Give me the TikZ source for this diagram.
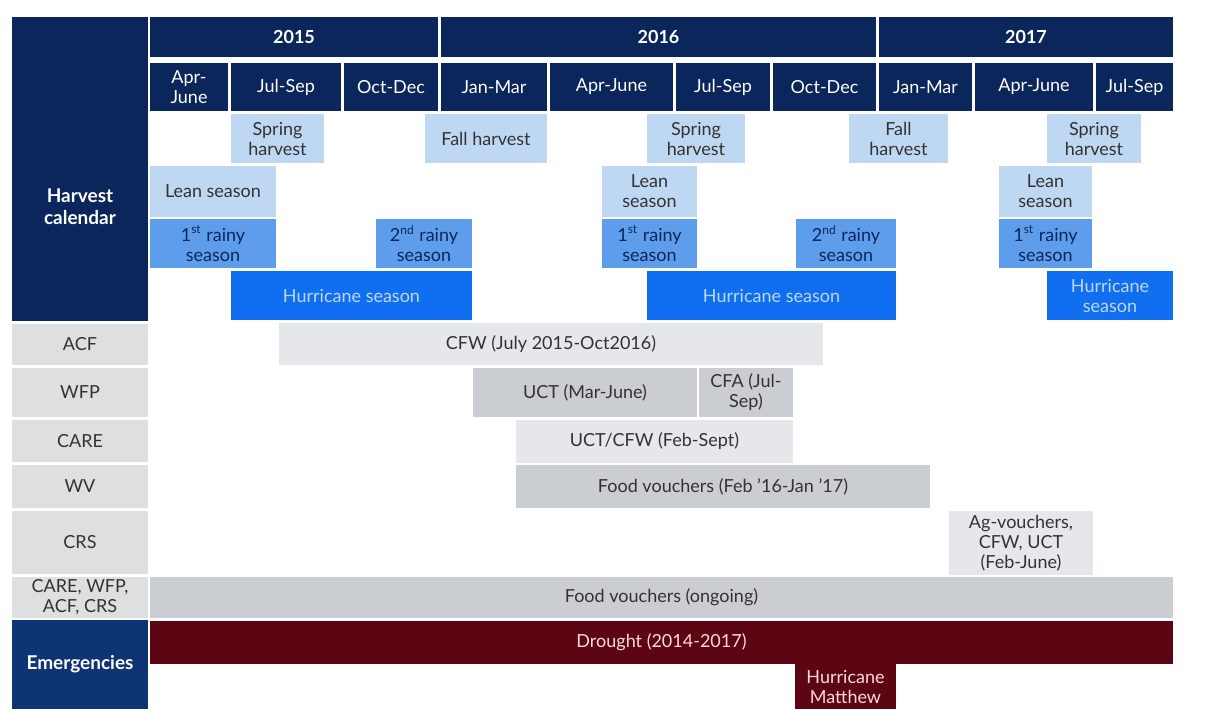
\documentclass[tikz,border=0pt]{standalone}
\usepackage{fontspec}
\setmainfont{Lato}
\definecolor{navy}{HTML}{0B265B}
\definecolor{navyB}{HTML}{0E3473}
\definecolor{paleblue}{HTML}{BED8F4}
\definecolor{midblue}{HTML}{5E9DEB}
\definecolor{brightblue}{HTML}{0F6FF0}
\definecolor{labelgray}{HTML}{DEDFE0}
\definecolor{lightgray}{HTML}{E5E7EA}
\definecolor{midgray}{HTML}{CACDD2}
\definecolor{maroon}{HTML}{5C0614}
\definecolor{inkgray}{HTML}{333333}

\begin{document}
\begin{tikzpicture}[x=0.5pt,y=-0.5pt]
		\tikzset{
			span/.style n args={4}{at={({(#1+#3)/2},{(#2+#4)/2})},
				minimum width={(#3-#1)*0.5pt},minimum height={(#4-#2)*0.5pt}},
			cell/.style={inner sep=0pt,align=center,font=\fontsize{9}{10}\selectfont},
			year/.style={cell,fill=navy,text=white,font=\fontsize{9}{10}\selectfont\bfseries},
			quarter/.style={cell,fill=navy,text=white},
			side/.style={cell,fill=navy,text=white,font=\fontsize{9.5}{11}\selectfont\bfseries},
			sidetext/.style={inner sep=0pt,align=center,text=white,font=\fontsize{9.5}{11}\selectfont\bfseries},
			harvest/.style={cell,fill=paleblue,text=inkgray},
			rainy/.style={cell,fill=midblue,text=navy},
			storm/.style={cell,fill=brightblue,text=paleblue},
			agency/.style={cell,fill=labelgray,text=inkgray},
			lightbar/.style={cell,fill=lightgray,text=inkgray},
			darkbar/.style={cell,fill=midgray,text=inkgray},
			crisis/.style={cell,fill=maroon,text=pink!60!white},
		}
		\useasboundingbox (0,0) rectangle (1217,709);
		
		\node[year, span={150}{17}{438}{57}] (y2015) {2015};
		\node[year, span={441}{17}{876}{57}] (y2016) {2016};
		\node[year, span={879}{17}{1173}{57}] (y2017) {2017};
		
		\node[quarter, span={150}{63}{228}{111}] (aprA) {Apr-\\June};
		\node[quarter, span={231}{63}{341}{111}] (julA) {Jul-Sep};
		\node[quarter, span={344}{63}{438}{111}] (octA) {Oct-Dec};
		\node[quarter, span={441}{63}{547}{111}] (janB) {Jan-Mar};
		\node[quarter, span={550}{63}{673}{111}] (aprB) {Apr-June};
		\node[quarter, span={676}{63}{770}{111}] (julB) {Jul-Sep};
		\node[quarter, span={773}{63}{876}{111}] (octB) {Oct-Dec};
		\node[quarter, span={879}{63}{972}{111}] (janC) {Jan-Mar};
		\node[quarter, span={975}{63}{1093}{111}] (aprC) {Apr-June};
		\node[quarter, span={1096}{63}{1173}{111}] (julC) {Jul-Sep};
		
		\node[side, span={12}{17}{148}{321},
			label={[sidetext,yshift=-19pt]center:Harvest\\calendar}] (calendar) {};
		
		\node[harvest, span={231}{114}{324}{163}] (springA) {Spring\\harvest};
		\node[harvest, span={425}{114}{547}{163}] (fallA) {Fall harvest};
		\node[harvest, span={647}{114}{745}{163}] (springB) {Spring\\harvest};
		\node[harvest, span={849}{114}{948}{163}] (fallB) {Fall\\harvest};
		\node[harvest, span={1047}{114}{1141}{163}] (springC) {Spring\\harvest};
		
		\node[harvest, span={150}{166}{276}{217}] (leanA) {Lean season};
		\node[harvest, span={602}{166}{697}{217}] (leanB) {Lean\\season};
		\node[harvest, span={999}{166}{1092}{217}] (leanC) {Lean\\season};
		
		\node[rainy, span={150}{219}{276}{268}] (rainA) {1\textsuperscript{st} rainy\\season};
		\node[rainy, span={376}{219}{472}{268}] (rainB) {2\textsuperscript{nd} rainy\\season};
		\node[rainy, span={602}{219}{697}{268}] (rainC) {1\textsuperscript{st} rainy\\season};
		\node[rainy, span={796}{219}{896}{268}] (rainD) {2\textsuperscript{nd} rainy\\season};
		\node[rainy, span={999}{219}{1092}{268}] (rainE) {1\textsuperscript{st} rainy\\season};
		
		\node[storm, span={231}{271}{472}{320}] (hurA) {Hurricane season};
		\node[storm, span={647}{271}{896}{320}] (hurB) {Hurricane season};
		\node[storm, span={1047}{271}{1173}{320}] (hurC) {Hurricane\\season};
		
		\node[agency, span={12}{324}{148}{365}] (acf) {ACF};
		\node[agency, span={12}{368}{148}{417}] (wfp) {WFP};
		\node[agency, span={12}{420}{148}{462}] (care) {CARE};
		\node[agency, span={12}{465}{148}{508}] (wv) {WV};
		\node[agency, span={12}{511}{148}{574}] (crs) {CRS};
		\node[agency, span={12}{577}{148}{618}] (all) {CARE, WFP,\\ACF, CRS};
		
		\node[lightbar, span={279}{323}{823}{365}] (cfw) {CFW (July 2015-Oct2016)};
		\node[darkbar, span={473}{368}{697}{417}] (uct) {UCT (Mar-June)};
		\node[darkbar, span={699}{368}{793}{417}] (cfa) {CFA (Jul-\\Sep)};
		\node[lightbar, span={516}{420}{793}{463}] (uctcfw) {UCT/CFW (Feb-Sept)};
		\node[darkbar, span={516}{465}{930}{508}] (vouchers) {Food vouchers (Feb '16-Jan '17)};
		\node[lightbar, span={949}{511}{1093}{575}] (agvouchers) {Ag-vouchers,\\CFW, UCT\\(Feb-June)};
		\node[darkbar, span={150}{577}{1173}{618}] (ongoing) {Food vouchers (ongoing)};
		
		\node[side, fill=navyB, span={12}{620}{148}{709}] (emergencies) {Emergencies};
		\node[crisis, span={150}{621}{1173}{664}] (drought) {Drought (2014-2017)};
		\node[crisis, span={795}{664}{896}{709}] (matthew) {Hurricane\\Matthew};
	\end{tikzpicture}
\end{document}
